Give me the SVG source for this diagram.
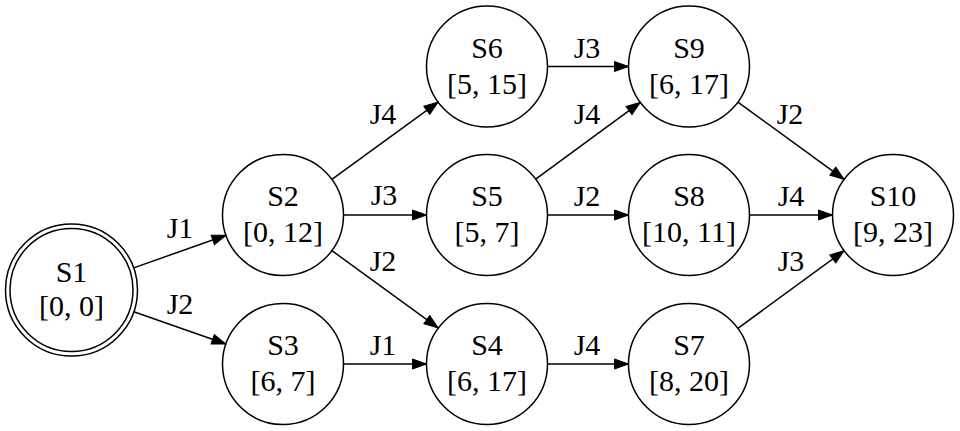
<svg xmlns="http://www.w3.org/2000/svg" width="960" height="431" viewBox="0 0 960 431">
<style>
  .node circle { fill: none; stroke: #000; stroke-width: 1.5; }
  text { font-family: "Liberation Serif", "Times New Roman", serif; font-size: 30px; fill: #000; text-anchor: middle; }
  .edge line { stroke: #000; stroke-width: 1.5; marker-end: url(#arrow); }
</style>
<defs>
  <marker id="arrow" markerUnits="userSpaceOnUse" markerWidth="15" markerHeight="11" refX="14" refY="5" orient="auto" viewBox="0 0 15 11" overflow="visible">
    <path d="M0,0 L14,5 L0,10 Z" fill="#000" stroke="#000" stroke-width="1"/>
  </marker>
</defs>
<rect width="960" height="431" fill="#fff"/>
<g id="edges" class="edge">
  <line x1="133.7" y1="267.9" x2="226" y2="235.2"/>
  <line x1="133.8" y1="311.8" x2="225.9" y2="344"/>
  <line x1="331.9" y1="179.4" x2="438.1" y2="102.1"/>
  <line x1="343.5" y1="215" x2="426.5" y2="215"/>
  <line x1="331.9" y1="250.6" x2="438.1" y2="327.9"/>
  <line x1="343.5" y1="364" x2="426.5" y2="364"/>
  <line x1="547.5" y1="66.5" x2="628.5" y2="66.5"/>
  <line x1="535.7" y1="179.2" x2="640.3" y2="102.3"/>
  <line x1="547.5" y1="215" x2="628.5" y2="215"/>
  <line x1="547.5" y1="364" x2="628.5" y2="364"/>
  <line x1="737.9" y1="102.1" x2="844.1" y2="179.4"/>
  <line x1="749.5" y1="215" x2="832.5" y2="215"/>
  <line x1="737.9" y1="328.3" x2="844.1" y2="250.7"/>
  <text x="180" y="238">J1</text>
  <text x="180" y="314">J2</text>
  <text x="383" y="124">J4</text>
  <text x="384" y="205">J3</text>
  <text x="383" y="271">J2</text>
  <text x="383" y="355">J1</text>
  <text x="587" y="58">J3</text>
  <text x="587" y="124">J4</text>
  <text x="587" y="205.5">J2</text>
  <text x="587" y="355">J4</text>
  <text x="790" y="124">J2</text>
  <text x="791" y="206">J4</text>
  <text x="791" y="271">J3</text>
</g>
<g id="S1" class="node">
  <circle cx="71.5" cy="290" r="66"/>
  <circle cx="71.5" cy="290" r="61.5"/>
  <text x="71.5" y="281.5">S1</text>
  <text x="71.5" y="316">[0, 0]</text>
</g>
<g id="S2" class="node">
  <circle cx="283" cy="215" r="60.5"/>
  <text x="283" y="206">S2</text>
  <text x="283" y="242">[0, 12]</text>
</g>
<g id="S3" class="node">
  <circle cx="283" cy="364" r="60.5"/>
  <text x="283" y="355">S3</text>
  <text x="283" y="391">[6, 7]</text>
</g>
<g id="S6" class="node">
  <circle cx="487" cy="66.5" r="60.5"/>
  <text x="487" y="57.5">S6</text>
  <text x="487" y="93.5">[5, 15]</text>
</g>
<g id="S5" class="node">
  <circle cx="487" cy="215" r="60.5"/>
  <text x="487" y="206">S5</text>
  <text x="487" y="242">[5, 7]</text>
</g>
<g id="S4" class="node">
  <circle cx="487" cy="364" r="60.5"/>
  <text x="487" y="355">S4</text>
  <text x="487" y="391">[6, 17]</text>
</g>
<g id="S9" class="node">
  <circle cx="689" cy="66.5" r="60.5"/>
  <text x="689" y="57.5">S9</text>
  <text x="689" y="93.5">[6, 17]</text>
</g>
<g id="S8" class="node">
  <circle cx="689" cy="215" r="60.5"/>
  <text x="689" y="206">S8</text>
  <text x="689" y="242">[10, 11]</text>
</g>
<g id="S7" class="node">
  <circle cx="689" cy="364" r="60.5"/>
  <text x="689" y="355">S7</text>
  <text x="689" y="391">[8, 20]</text>
</g>
<g id="S10" class="node">
  <circle cx="893" cy="215" r="60.5"/>
  <text x="893" y="206">S10</text>
  <text x="893" y="242">[9, 23]</text>
</g>
</svg>
